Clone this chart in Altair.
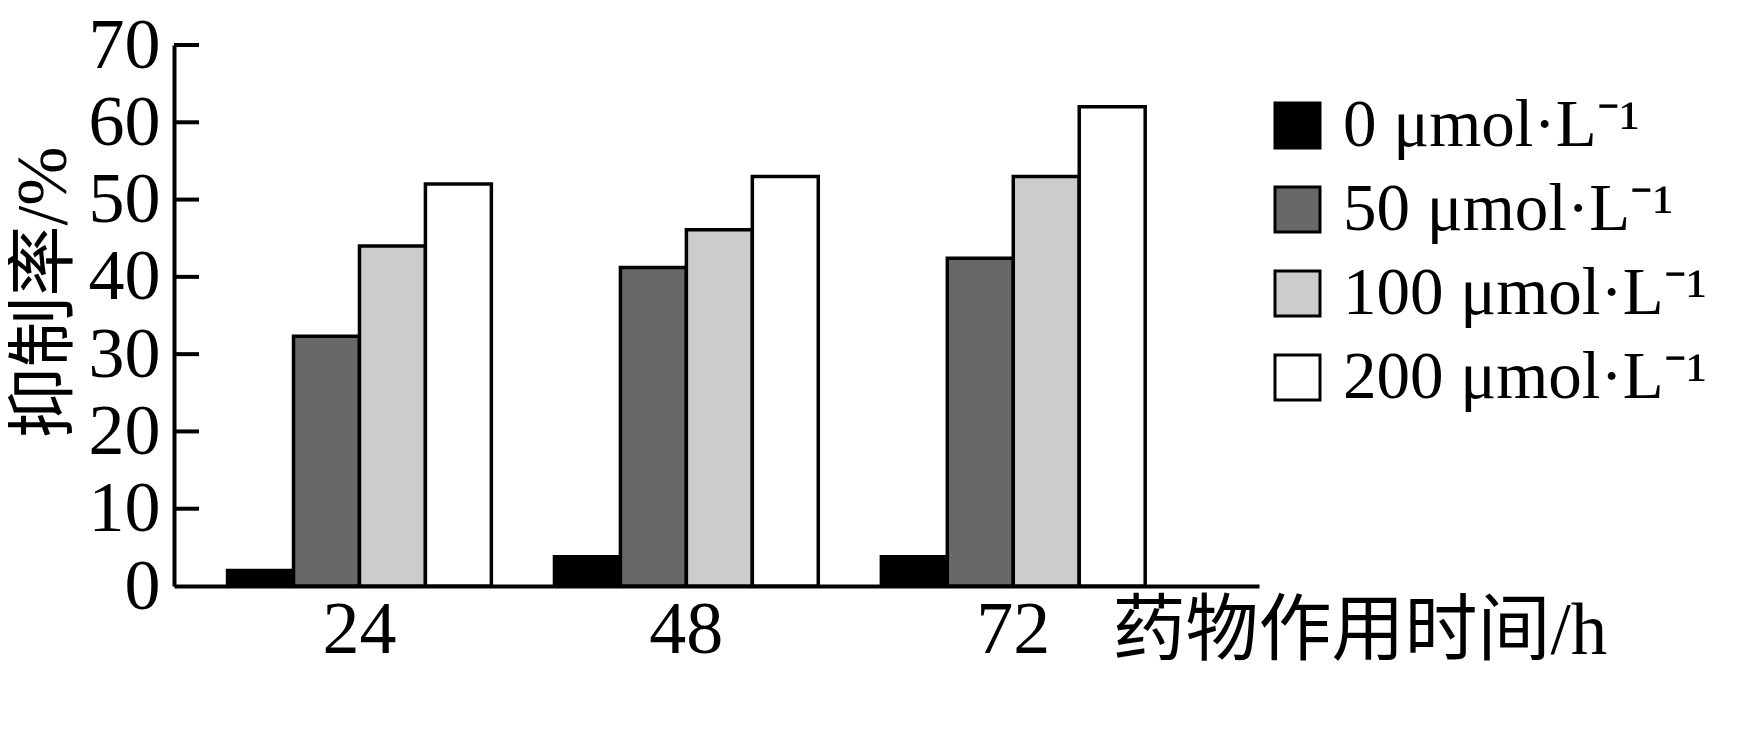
import altair as alt
import pandas as pd

times = ["24", "48", "72"]
doses = ["0 μmol·L⁻¹", "50 μmol·L⁻¹", "100 μmol·L⁻¹", "200 μmol·L⁻¹"]
rate_0 = [2.0, 3.8, 3.8]
rate_50 = [32.3, 41.2, 42.4]
rate_100 = [44.0, 46.1, 53.0]
rate_200 = [52.0, 53.0, 62.0]
y_ticks = [10, 20, 30, 40, 50, 60, 70]
colors = ["#000000", "#686868", "#cccccc", "#ffffff"]

rows = []
for series, name in zip([rate_0, rate_50, rate_100, rate_200], doses):
    for t, v in zip(times, series):
        rows.append({"time": t, "dose": name, "rate": v})
df = pd.DataFrame(rows)
tick_df = pd.DataFrame({"rate": y_ticks})

SERIF = "Liberation Serif"
MIXED = "Liberation Serif, Noto Sans CJK SC"

bars = alt.Chart(df).mark_bar(stroke="black", strokeWidth=3.5).encode(
    x=alt.X(
        "time:N", sort=times,
        scale=alt.Scale(paddingInner=0.193, paddingOuter=0.256, align=0.32),
        axis=alt.Axis(
            title="药物作用时间/h", labelAngle=0, ticks=False, labelPadding=8,
            labelFontSize=74, titleFontSize=73, titleX=938, titleY=9,
            titleAlign="left", titleBaseline="top", domainWidth=4,
        ),
    ),
    xOffset=alt.XOffset("dose:N", sort=doses, scale=alt.Scale(paddingInner=0, paddingOuter=0)),
    y=alt.Y(
        "rate:Q",
        scale=alt.Scale(domain=[0, 70], nice=False),
        axis=alt.Axis(
            values=list(range(0, 71, 10)), title="抑制率/%", ticks=False, grid=False,
            labelPadding=14, labelFontSize=72, titleFontSize=71, domainWidth=4,
            titleAngle=270, titleX=-130, titleY=247, titleAlign="center",
            titleBaseline="middle",
        ),
    ),
    color=alt.Color(
        "dose:N", sort=doses,
        scale=alt.Scale(domain=doses, range=colors),
        legend=alt.Legend(
            title=None, orient="none", legendX=1090, legendY=47,
            symbolType="square", symbolSize=2025, symbolStrokeColor="black",
            symbolStrokeWidth=3, labelFontSize=67, labelFont=SERIF,
            labelOffset=12, rowPadding=16, padding=0, labelLimit=600,
            labelColor="black",
        ),
    ),
)

ticks = alt.Chart(tick_df).mark_rule(color="black", strokeWidth=4).encode(
    y=alt.Y("rate:Q"),
    x=alt.value(0),
    x2=alt.value(25),
)

chart = alt.layer(bars, ticks).properties(
    width=1085,
    height=541,
    autosize=alt.AutoSizeParams(type="none"),
    padding={"left": 166, "top": 37, "right": 470, "bottom": 148},
    background="white",
).configure_axis(
    labelFont=SERIF, titleFont=MIXED, labelColor="black", titleColor="black",
    domainColor="black", titleFontWeight="normal",
).configure_view(strokeWidth=0)

chart.save("out.html", embed_options={"renderer": "svg", "actions": False})
